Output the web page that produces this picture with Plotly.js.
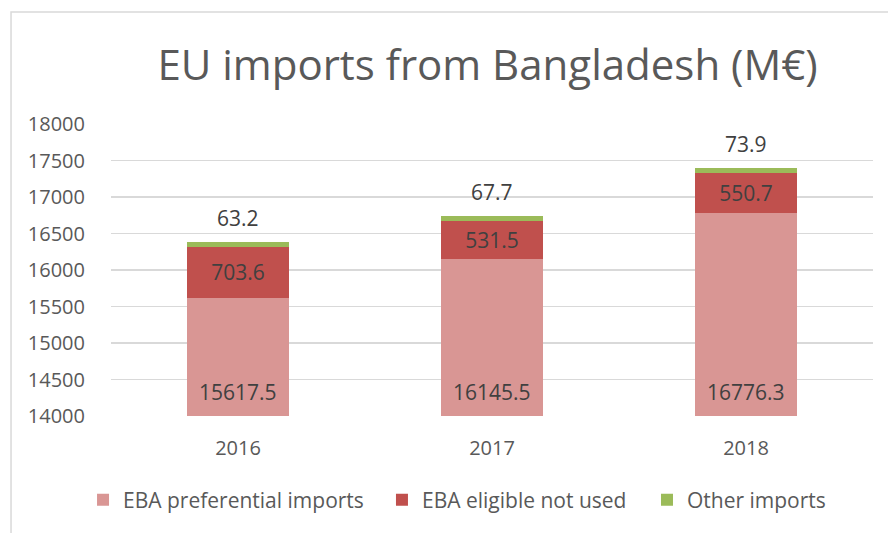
<!DOCTYPE html>
<html>
<head>
<meta charset="utf-8">
<script src="https://cdn.plot.ly/plotly-3.0.1.min.js"></script>
<style>html,body{margin:0;padding:0;background:#fff;}#chart{width:888px;height:533px;}</style>
</head>
<body>
<div id="chart"></div>
<script>
const years = ['2016', '2017', '2018'];
const ebaPreferential = [15617.5, 16145.5, 16776.3];
const ebaNotUsed = [703.6, 531.5, 550.7];
const otherImports = [63.2, 67.7, 73.9];
const seriesNames = ['EBA preferential imports', 'EBA eligible not used', 'Other imports'];
const yTicks = [14000, 14500, 15000, 15500, 16000, 16500, 17000, 17500, 18000];

const FONT = 'Open Sans, sans-serif';
const labelFont = {family: FONT, size: 21, color: '#404040'};
const yMin = 14000, yMax = 18000;

const traces = [
  {type: 'bar', name: seriesNames[0], x: years, y: ebaPreferential, legend: 'legend',
   marker: {color: '#D99694'}, hoverinfo: 'none'},
  {type: 'bar', name: seriesNames[1], x: years, y: ebaNotUsed, legend: 'legend2',
   marker: {color: '#C0504D'}, text: ebaNotUsed.map(v => v.toFixed(1)),
   textposition: 'inside', insidetextanchor: 'middle', textfont: labelFont, textangle: 0,
   constraintext: 'none', hoverinfo: 'none'},
  {type: 'bar', name: seriesNames[2], x: years, y: otherImports, legend: 'legend3',
   marker: {color: '#9BBB59'}, hoverinfo: 'none'}
];

const totals = years.map((_, i) => ebaPreferential[i] + ebaNotUsed[i] + otherImports[i]);
const topLabels = years.map((yr, i) => ({
  x: i, y: totals[i], xref: 'x', yref: 'y', text: otherImports[i].toFixed(1),
  showarrow: false, yanchor: 'bottom', yshift: 8, font: labelFont
}));
const baseLabels = years.map((yr, i) => ({
  x: i, y: yMin, xref: 'x', yref: 'y', text: ebaPreferential[i].toFixed(1),
  showarrow: false, yanchor: 'bottom', yshift: 8, font: labelFont
}));

const legendFont = {family: FONT, size: 21, color: '#595959'};
const legendCommon = {orientation: 'h', xanchor: 'left', y: -0.288, yanchor: 'middle',
                      font: legendFont, bgcolor: 'rgba(0,0,0,0)'};

const layout = {
  width: 888, height: 533,
  margin: {l: 111, r: 15, t: 124, b: 117},
  paper_bgcolor: '#fff', plot_bgcolor: '#fff',
  barmode: 'stack', bargap: 0.6,
  title: {text: 'EU imports from Bangladesh (M€)', font: {family: FONT, size: 42, color: '#595959'},
          x: 0.549, xanchor: 'center', y: 0.877, yanchor: 'middle'},
  xaxis: {type: 'category', categoryarray: years, categoryorder: 'array', range: [-0.5, 2.5],
          showgrid: false, zeroline: false, showline: false,
          ticks: 'outside', ticklen: 14, tickcolor: 'rgba(0,0,0,0)',
          tickfont: {family: FONT, size: 20, color: '#595959'}},
  yaxis: {range: [yMin, yMax], tickvals: yTicks, ticktext: yTicks.map(String),
          showgrid: true, gridcolor: '#D9D9D9', gridwidth: 1.5, zeroline: false, showline: false,
          ticks: 'outside', ticklen: 21, tickcolor: 'rgba(0,0,0,0)',
          tickfont: {family: FONT, size: 20, color: '#595959'}},
  legend: Object.assign({x: -0.0367}, legendCommon),
  legend2: Object.assign({x: 0.3556}, legendCommon),
  legend3: Object.assign({x: 0.7034}, legendCommon),
  showlegend: true,
  annotations: topLabels.concat(baseLabels),
  shapes: [{type: 'rect', xref: 'paper', yref: 'paper', x0: -0.1312, x1: 1.05, y0: -0.6, y1: 1.3836,
            line: {color: '#D9D9D9', width: 1.5}, fillcolor: 'rgba(0,0,0,0)', layer: 'below'}]
};

Plotly.newPlot('chart', traces, layout, {displayModeBar: false, staticPlot: true});
</script>
</body>
</html>
